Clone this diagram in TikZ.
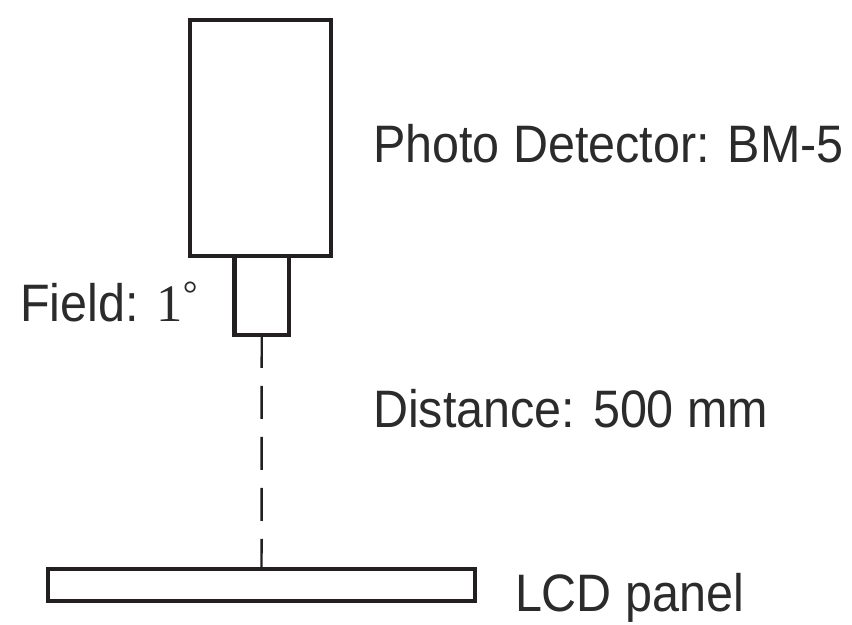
\documentclass[tikz,border=0pt]{standalone}
\usepackage{fontspec}
\setmainfont{Liberation Sans}[FakeStretch=0.92]
\newfontfamily\serifnum{Liberation Serif}
\usepackage{xcolor}
\definecolor{Ink}{HTML}{231F20}
\definecolor{InkText}{HTML}{2B2B2B}
\colorlet{ink}{Ink}
\colorlet{inktext}{InkText}
\usepackage{tikz}
\usetikzlibrary{positioning}

\begin{document}
\begin{tikzpicture}[x=0.02cm,y=0.02cm,
  every node/.style={font=\fontsize{30}{36}\selectfont,text=inktext,inner sep=0pt,outer sep=0pt},
  part/.style={draw=ink,line width=2.6pt,fill=white,minimum width=#1},
  beam/.style={draw=ink,line width=1.4pt,dash pattern=on 0.66cm off 0.36cm}]
\useasboundingbox (0,0) rectangle (852,625);
\node[part=2.82cm,minimum height=4.72cm] (det) at (260.5,487) {};
\node[part=1.09cm,minimum height=1.58cm] (lens) at (261.75,329.5) {};
\node[part=8.54cm,minimum height=0.64cm] (lcd) at (261.5,40) {};
\draw[beam] (lens.south) -- (lcd.north);
\node[anchor=base west] (detlabel) at (373,462) {Photo Detector: BM-5};
\node[anchor=base west] (fieldlabel) at (20,303) {Field: {\serifnum 1\textsuperscript{°}}};
\node[anchor=base west] (distlabel) at (373,197) {Distance: 500 mm};
\node[anchor=base west] (lcdlabel) at (515,13) {LCD panel};
\end{tikzpicture}
\end{document}
